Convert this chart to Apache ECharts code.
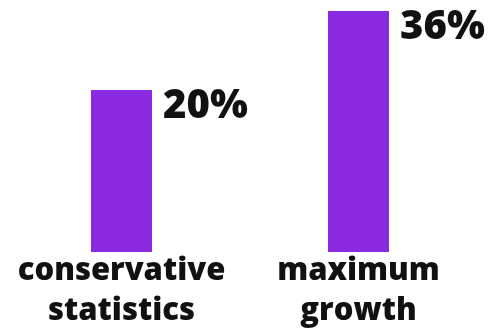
<!DOCTYPE html>
<html>
<head>
<meta charset="utf-8">
<script src="https://cdn.jsdelivr.net/npm/echarts@6/dist/echarts.min.js"></script>
<style>
  html, body { margin: 0; padding: 0; background: #fff; }
  #chart { width: 488px; height: 328px; }
</style>
</head>
<body>
<div id="chart"></div>
<script>
// categories and values
const categories = ['conservative\nstatistics', 'maximum\ngrowth'];
const values = [20, 36];
const valueLabels = ['20%', '36%'];

const chart = echarts.init(document.getElementById('chart'));
const option = {
    animation: false,
    grid: {
        left: 3,
        right: 11,
        top: 11,
        bottom: 76,
        outerBoundsMode: 'none'
    },
    xAxis: {
        type: 'category',
        data: categories,
        axisLine: { show: false },
        axisTick: { show: false },
        axisLabel: {
            color: '#111',
            fontFamily: 'Open Sans',
            fontWeight: 800,
            fontSize: 31,
            lineHeight: 40,
            margin: -1,
            interval: 0
        }
    },
    yAxis: {
        type: 'value',
        // bars in the picture don't start from zero, base sits lower
        min: -12.8,
        max: 36,
        startValue: -12.8,
        show: false
    },
    series: [
        {
            type: 'bar',
            data: values,
            barWidth: 61,
            itemStyle: { color: '#8a2be2' },
            label: {
                show: true,
                position: [72, -3],
                color: '#111',
                fontFamily: 'Open Sans',
                fontWeight: 800,
                fontSize: 40,
                formatter: p => valueLabels[p.dataIndex]
            }
        }
    ]
};
chart.setOption(option);
</script>
</body>
</html>
